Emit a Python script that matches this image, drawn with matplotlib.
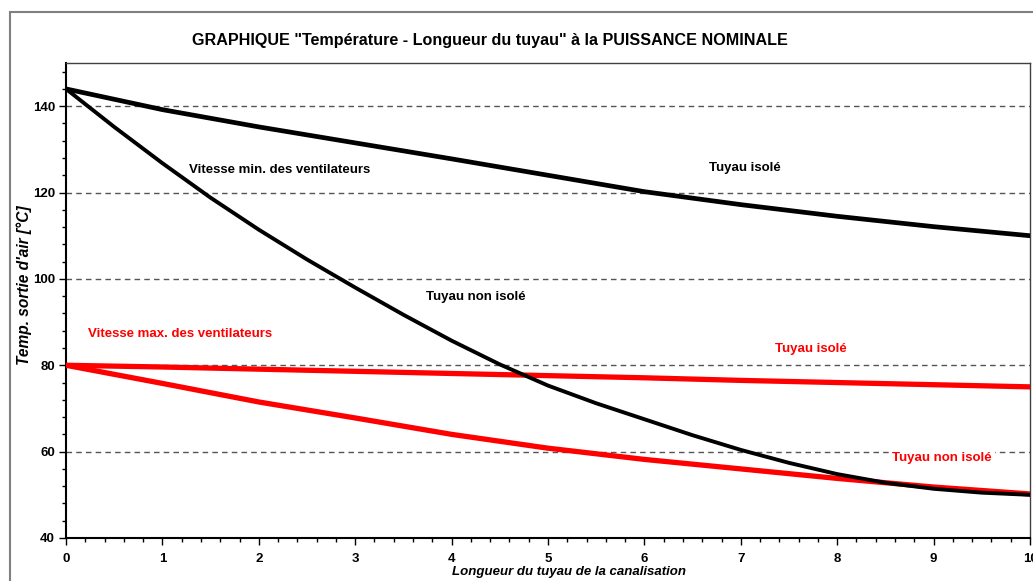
import numpy as np
import matplotlib.pyplot as plt
from matplotlib.patches import Rectangle
from matplotlib.ticker import MultipleLocator

plt.rcParams['font.family'] = ['Liberation Sans', 'DejaVu Sans']

# longueur du tuyau [m]
x_int = [0, 1, 2, 3, 4, 5, 6, 7, 8, 9, 10]
x_half = [0, 0.5, 1, 1.5, 2, 2.5, 3, 3.5, 4, 4.5, 5,
          5.5, 6, 6.5, 7, 7.5, 8, 8.5, 9, 9.5, 10]

# vitesse min. des ventilateurs
min_isole = [144, 139.2, 135.2, 131.5, 127.8, 124.0, 120.2, 117.2, 114.5, 112.1, 110.0]
min_non_isole = [144, 135.2, 126.8, 118.8, 111.4, 104.5, 98.0, 91.7, 85.7, 80.2, 75.3,
                 71.2, 67.5, 63.8, 60.4, 57.4, 54.8, 52.8, 51.4, 50.5, 50.0]

# vitesse max. des ventilateurs
max_isole = [80, 79.6, 79.1, 78.6, 78.1, 77.6, 77.1, 76.5, 76.0, 75.5, 75.0]
max_non_isole = [80, 75.8, 71.5, 67.8, 64.0, 60.8, 58.2, 56.0, 53.8, 51.8, 50.2]

W, H = 1033, 581
fig = plt.figure(figsize=(W / 100, H / 100), dpi=100)

# cadre gris autour du graphique
fig.patches.append(Rectangle((10 / W, -0.1), 1.2, 1 - 12 / H + 0.1, transform=fig.transFigure,
                             fill=False, edgecolor='#808080', linewidth=1.5))

ax = fig.add_axes([66 / W, (H - 538) / H, (1030 - 66) / W, (538 - 63) / H])

ax.set_xlim(0, 10)
ax.set_ylim(40, 150)

for yg in [60, 80, 100, 120, 140]:
    ax.axhline(yg, color='#555555', linestyle=(0, (4, 3)), linewidth=1, zorder=1)

ax.plot(x_int, max_isole, color='#ff0000', linewidth=3.8, zorder=3)
ax.plot(x_int, max_non_isole, color='#ff0000', linewidth=3.8, zorder=3)
ax.plot(x_int, min_isole, color='black', linewidth=3.4, zorder=4)
ax.plot(x_half, min_non_isole, color='black', linewidth=2.8, zorder=4)

ax.xaxis.set_major_locator(MultipleLocator(1))
ax.xaxis.set_minor_locator(MultipleLocator(0.2))
ax.yaxis.set_major_locator(MultipleLocator(20))
ax.yaxis.set_minor_locator(MultipleLocator(4))
ax.tick_params(which='major', direction='out', length=5, width=1, labelsize=9.5)
ax.tick_params(axis='x', which='major', pad=6)
ax.tick_params(axis='y', which='major', pad=3)
ax.tick_params(which='minor', direction='out', length=3, width=1)
for lab in ax.get_xticklabels() + ax.get_yticklabels():
    lab.set_fontweight('bold')

for side in ['left', 'bottom']:
    ax.spines[side].set_linewidth(1.5)
for side in ['top', 'right']:
    ax.spines[side].set_linewidth(1)
    ax.spines[side].set_color('#404040')

fig.text(490 / W, 1 - 40 / H, 'GRAPHIQUE "Température - Longueur du tuyau" à la PUISSANCE NOMINALE',
         ha='center', va='center', fontsize=11.6, fontweight='bold')
fig.text(24 / W, 1 - 285 / H, "Temp. sortie d'air [°C]", rotation=90, ha='center', va='center',
         fontsize=11.2, fontweight='bold', style='italic')
fig.text(569 / W, 1 - 572 / H, 'Longueur du tuyau de la canalisation', ha='center', va='center',
         fontsize=9.5, fontweight='bold', style='italic')

fs = 9.5
ax.text(1.28, 125.2, 'Vitesse min. des ventilateurs', fontsize=fs, fontweight='bold', va='center')
ax.text(7.04, 125.6, 'Tuyau isolé', fontsize=fs, fontweight='bold', ha='center', va='center')
ax.text(4.25, 95.8, 'Tuyau non isolé', fontsize=fs, fontweight='bold', ha='center', va='center')
ax.text(0.23, 87.2, 'Vitesse max. des ventilateurs', fontsize=fs, fontweight='bold',
        color='#ff0000', va='center')
ax.text(7.73, 83.7, 'Tuyau isolé', fontsize=fs, fontweight='bold', color='#ff0000',
        ha='center', va='center')
ax.text(9.09, 58.5, 'Tuyau non isolé', fontsize=fs, fontweight='bold', color='#ff0000',
        ha='center', va='center', zorder=2,
        bbox=dict(facecolor='white', edgecolor='none', pad=2))

fig.savefig('out.png', dpi=100)
